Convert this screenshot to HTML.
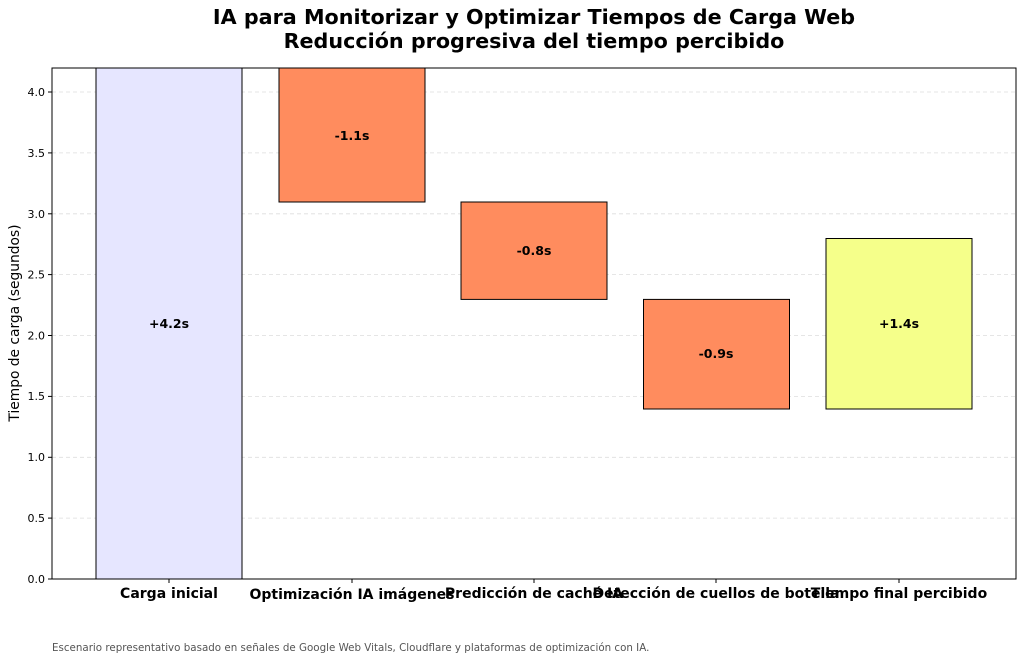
<!DOCTYPE html>
<html><head><meta charset="utf-8"><style>
html,body{margin:0;padding:0;background:#fff;}
svg{display:block;font-family:"DejaVu Sans","Liberation Sans",sans-serif;}
</style></head><body>
<svg width="1024" height="661" viewBox="0 0 1024 661" xmlns="http://www.w3.org/2000/svg">
<rect width="1024" height="661" fill="#fff"/>
<text x="534" y="24" font-size="20.7" font-weight="bold" text-anchor="middle" fill="#000">IA para Monitorizar y Optimizar Tiempos de Carga Web</text>
<text x="534" y="48" font-size="20.7" font-weight="bold" text-anchor="middle" fill="#000">Reducción progresiva del tiempo percibido</text>
<g stroke="#ddd" stroke-width="0.8" stroke-dasharray="4,3">
<line x1="52" x2="1016" y1="518.1" y2="518.1"/>
<line x1="52" x2="1016" y1="457.3" y2="457.3"/>
<line x1="52" x2="1016" y1="396.4" y2="396.4"/>
<line x1="52" x2="1016" y1="335.5" y2="335.5"/>
<line x1="52" x2="1016" y1="274.6" y2="274.6"/>
<line x1="52" x2="1016" y1="213.8" y2="213.8"/>
<line x1="52" x2="1016" y1="152.9" y2="152.9"/>
<line x1="52" x2="1016" y1="92" y2="92"/>
</g>
<g stroke="#000" stroke-width="1">
<rect x="96" y="68" width="146" height="511" fill="#e6e6ff"/>
<rect x="279" y="68" width="146" height="134" fill="#ff8c5e"/>
<rect x="461" y="202" width="146" height="97.4" fill="#ff8c5e"/>
<rect x="643.5" y="299.4" width="146" height="109.6" fill="#ff8c5e"/>
<rect x="826" y="238.5" width="146" height="170.5" fill="#f5ff8a"/>
</g>
<g font-size="12.5" font-weight="bold" text-anchor="middle" fill="#000">
<text x="169" y="328">+4.2s</text>
<text x="352" y="140">-1.1s</text>
<text x="534" y="255">-0.8s</text>
<text x="716" y="358">-0.9s</text>
<text x="899" y="328">+1.4s</text>
</g>
<rect x="52" y="68" width="964" height="511" fill="none" stroke="#000" stroke-width="1"/>
<g stroke="#000" stroke-width="1">
<line x1="48" x2="52" y1="579" y2="579"/><line x1="48" x2="52" y1="518.1" y2="518.1"/><line x1="48" x2="52" y1="457.3" y2="457.3"/><line x1="48" x2="52" y1="396.4" y2="396.4"/><line x1="48" x2="52" y1="335.5" y2="335.5"/><line x1="48" x2="52" y1="274.6" y2="274.6"/><line x1="48" x2="52" y1="213.8" y2="213.8"/><line x1="48" x2="52" y1="152.9" y2="152.9"/><line x1="48" x2="52" y1="92" y2="92"/>
<line x1="169" x2="169" y1="579" y2="583"/><line x1="352" x2="352" y1="579" y2="583"/><line x1="534" x2="534" y1="579" y2="583"/><line x1="716" x2="716" y1="579" y2="583"/><line x1="899" x2="899" y1="579" y2="583"/>
</g>
<g font-size="11" text-anchor="end" fill="#000">
<text x="45" y="583">0.0</text><text x="45" y="522">0.5</text><text x="45" y="461">1.0</text><text x="45" y="400">1.5</text><text x="45" y="339.5">2.0</text><text x="45" y="278.5">2.5</text><text x="45" y="218">3.0</text><text x="45" y="157">3.5</text><text x="45" y="96">4.0</text>
</g>
<text transform="translate(19,323) rotate(-90)" font-size="13.8" text-anchor="middle" fill="#000">Tiempo de carga (segundos)</text>
<g font-size="14" font-weight="bold" text-anchor="middle" fill="#000">
<text x="169" y="598">Carga inicial</text>
<text x="352" y="599">Optimización IA imágenes</text>
<text x="534" y="598">Predicción de caché IA</text>
<text x="716" y="598">Detección de cuellos de botella</text>
<text x="899" y="598">Tiempo final percibido</text>
</g>
<text x="52" y="651" font-size="10.3" fill="#555">Escenario representativo basado en señales de Google Web Vitals, Cloudflare y plataformas de optimización con IA.</text>
</svg>
</body></html>
